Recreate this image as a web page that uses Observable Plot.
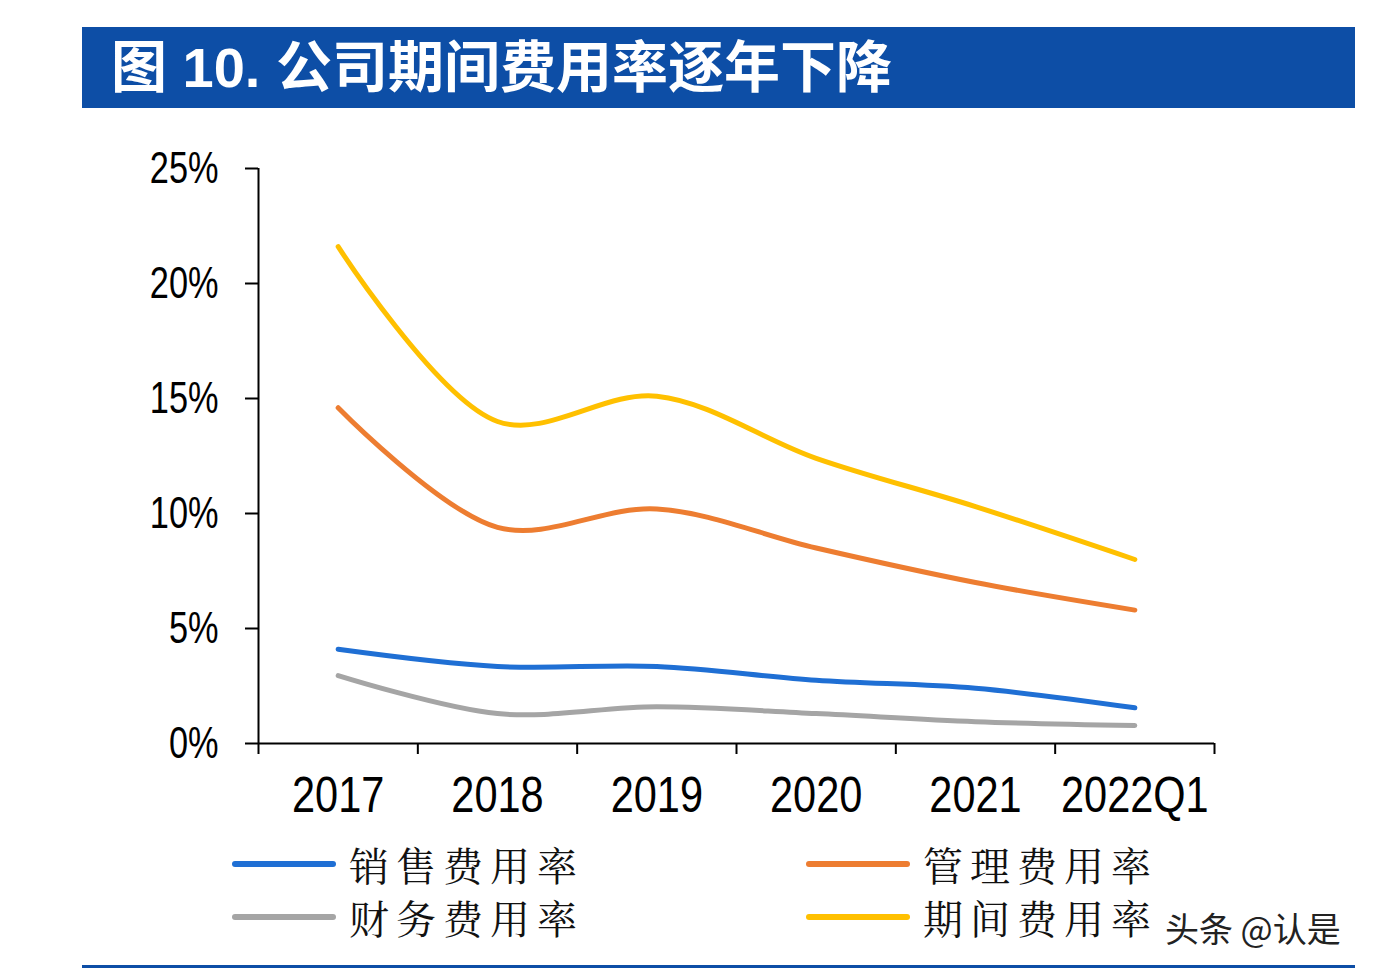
<!DOCTYPE html>
<html>
<head>
<meta charset="utf-8">
<script src="https://cdn.jsdelivr.net/npm/d3@7"></script>
<script src="https://cdn.jsdelivr.net/npm/@observablehq/plot@0.6"></script>
<style>
  html, body { margin: 0; padding: 0; background: #fff; }
  #page { position: relative; width: 1376px; height: 976px; overflow: hidden; background: #fff; }
  #titlebar { position: absolute; left: 82px; top: 27px; width: 1273px; height: 81px; background: #0d4ea6; }
  #title { position: absolute; left: 111px; top: 30px; color: #fff; font-family: "Liberation Sans", "Noto Sans CJK SC", sans-serif; font-weight: 700; font-size: 56px; line-height: 76px; letter-spacing: 0px; white-space: nowrap; }
  #chart { position: absolute; left: 0; top: 0; }
  .lg-line { position: absolute; height: 6px; border-radius: 3px; width: 104px; }
  .lg-text { position: absolute; font-family: "Noto Serif CJK SC", "Noto Sans CJK SC", serif; font-size: 40px; line-height: 48px; letter-spacing: 7px; color: #111; white-space: nowrap; }
  #watermark { position: absolute; left: 1165px; top: 906px; font-family: "Noto Sans CJK SC", sans-serif; font-size: 34px; line-height: 44px; color: #222; white-space: nowrap; }
  #bottomline { position: absolute; left: 82px; top: 965px; width: 1273px; height: 3px; background: #0d4ea6; }
</style>
</head>
<body>
<div id="page">
  <div id="chart"></div>
  <div id="titlebar"></div>
  <div id="title">图 10. 公司期间费用率逐年下降</div>
  <div id="legend"></div>
  <div id="watermark">头条 @认是</div>
  <div id="bottomline"></div>
</div>
<script>
const categories = ["2017", "2018", "2019", "2020", "2021", "2022Q1"];
const seriesNames = ["销售费用率", "管理费用率", "财务费用率", "期间费用率"];
const seriesColors = ["#1f6fd4", "#ed7d31", "#a5a5a5", "#ffc000"];
const salesRate = [4.1, 3.35, 3.35, 2.75, 2.4, 1.55];
const adminRate = [14.6, 9.4, 10.2, 8.5, 7.0, 5.8];
const financeRate = [2.95, 1.3, 1.6, 1.3, 0.95, 0.78];
const periodRate = [21.6, 14.0, 15.1, 12.4, 10.3, 8.0];
const yTicks = [0, 5, 10, 15, 20, 25];

const seriesValues = [salesRate, adminRate, financeRate, periodRate];
const data = [];
seriesNames.forEach((name, s) => {
  seriesValues[s].forEach((v, i) => data.push({series: name, idx: i, value: v}));
});
const idxs = categories.map((c, i) => i);
const boundaries = categories.map((c, i) => i - 0.5).concat([categories.length - 0.5]);

const fontNum = '"Liberation Sans", Arial, sans-serif';

const chart = Plot.plot({
  width: 1376,
  height: 830,
  marginTop: 168,
  marginBottom: 87,
  marginLeft: 258,
  marginRight: 162,
  style: {fontFamily: fontNum, color: "#000", background: "transparent"},
  x: {type: "linear", domain: [-0.5, categories.length - 0.5], axis: null},
  y: {domain: [0, 25], axis: null},
  color: {domain: seriesNames, range: seriesColors},
  marks: [
    Plot.axisY(yTicks, {tickSize: 13, tickPadding: 27, strokeWidth: 2, tickFormat: d => d + "%", fontSize: 44, label: null}),
    Plot.axisX(boundaries, {tickSize: 11, strokeWidth: 2, tickFormat: () => "", label: null}),
    Plot.axisX(idxs, {tickSize: 0, tickPadding: 33, tickFormat: i => categories[i], fontSize: 50, label: null}),
    Plot.ruleY([0], {stroke: "#000", strokeWidth: 2}),
    Plot.ruleX([-0.5], {stroke: "#000", strokeWidth: 2}),
    Plot.line(data, {x: "idx", y: "value", z: "series", stroke: "series", curve: "catmull-rom", strokeWidth: 5, strokeLinecap: "round", strokeLinejoin: "round"})
  ]
});
document.getElementById("chart").appendChild(chart);

// narrow the numeric tick labels to mimic the condensed face of the original
function condense(selector, factor) {
  chart.querySelectorAll(selector).forEach(t => {
    const w = t.getComputedTextLength();
    if (w > 0) {
      t.setAttribute("textLength", (w * factor).toFixed(1));
      t.setAttribute("lengthAdjust", "spacingAndGlyphs");
    }
  });
}
condense('g[aria-label="x-axis tick label"] text', 0.83);
condense('g[aria-label="y-axis tick label"] text', 0.78);

// legend
const legend = document.getElementById("legend");
const legendPos = [
  {x: 232, y: 864}, {x: 806, y: 864}, {x: 232, y: 917}, {x: 806, y: 917}
];
seriesNames.forEach((name, i) => {
  const p = legendPos[i];
  const line = document.createElement("div");
  line.className = "lg-line";
  line.style.left = p.x + "px";
  line.style.top = (p.y - 3) + "px";
  line.style.background = seriesColors[i];
  legend.appendChild(line);
  const t = document.createElement("div");
  t.className = "lg-text";
  t.textContent = name;
  t.style.left = (p.x + 117) + "px";
  t.style.top = (p.y - 24) + "px";
  legend.appendChild(t);
});
</script>
</body>
</html>
